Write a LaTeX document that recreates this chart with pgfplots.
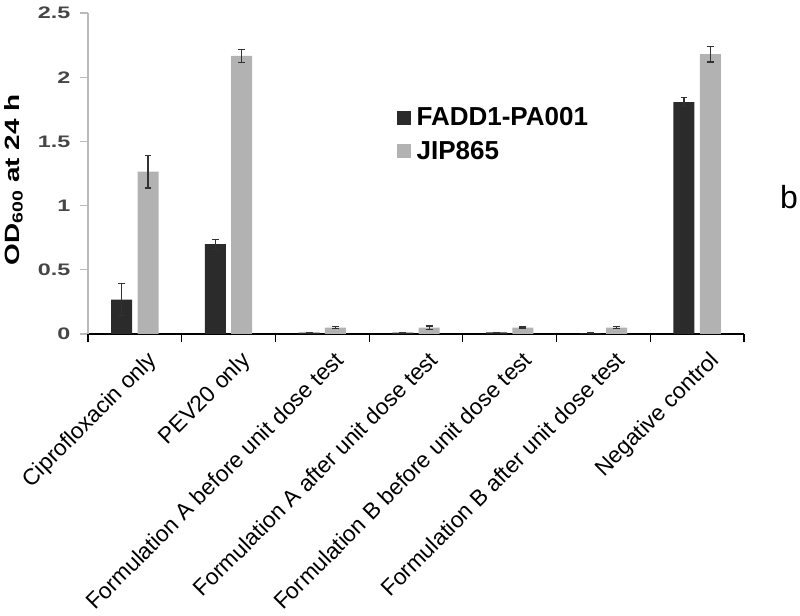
\documentclass[border=0pt]{standalone}
\usepackage{fontspec}
\setmainfont{Liberation Sans}
\usepackage{pgfplots}
\pgfplotsset{compat=1.18}
\definecolor{darkbar}{RGB}{43,43,43}
\definecolor{lightbar}{RGB}{178,178,178}
\definecolor{ticklab}{RGB}{70,70,70}
\definecolor{errc}{RGB}{50,50,50}
\begin{document}
\begin{tikzpicture}
\begin{axis}[
  at={(0pt,0pt)}, anchor=south west,
  scale only axis, width=492pt, height=240.75pt,
  ybar=4pt, bar width=15.75pt,
  xmin=-0.5, xmax=6.5, ymin=0, ymax=2.5,
  axis x line*=bottom, axis y line*=left,
  x axis line style={draw=black, line width=0.9pt},
  y axis line style={draw=gray!55, line width=0.9pt},
  tick align=outside, major tick length=6pt,
  xtick={0,...,6},
  xticklabels={Ciprofloxacin only, PEV20 only, Formulation A before unit dose test, Formulation A after unit dose test, Formulation B before unit dose test, Formulation B after unit dose test, Negative control},
  x tick style={draw=none},
  extra x ticks={-0.5,0.5,1.5,2.5,3.5,4.5,5.5,6.5},
  extra x tick labels={},
  extra x tick style={x tick style={draw=black, line width=0.9pt}},
  xticklabel style={rotate=45, anchor=north east, inner sep=0pt, font=\fontsize{17}{19}\selectfont, yshift=-10pt, xshift=2pt},
  ytick={0,0.5,1,1.5,2,2.5},
  yticklabels={0,0.5,1,1.5,2,2.5},
  y tick style={draw=gray!55, line width=0.9pt},
  yticklabel style={font=\bfseries\fontsize{12.5}{15}\selectfont\addfontfeature{FakeStretch=1.4}, text=ticklab, inner sep=0pt, xshift=-7pt},
  ylabel={OD\textsubscript{600} at 24 h},
  ylabel style={font=\bfseries\fontsize{15.5}{18}\selectfont\addfontfeature{FakeStretch=1.35}, at={(rel axis cs:-0.1136,0.48)}, anchor=center},
  legend style={at={(rel axis cs:0.471,0.71)}, anchor=north west, draw=none, fill=none,
    font=\bfseries\fontsize{19.5}{22}\selectfont, row sep=8pt, inner sep=0pt,
    nodes={inner sep=1pt},
    /tikz/every odd column/.append style={column sep=3pt}},
  legend cell align=left,
  legend image code/.code={\fill[#1] (0pt,-5.25pt) rectangle (10.5pt,5.25pt);},
  error bars/error bar style={line width=0.9pt, draw=errc},
  error bars/error mark options={rotate=90, mark size=2.6pt, line width=0.9pt, draw=errc},
]
\addplot[fill=darkbar, draw=none, error bars/.cd, y dir=both, y explicit] coordinates {
  (0,0.267) +- (0,0.125)
  (1,0.699) +- (0,0.038)
  (2,0.010) +- (0,0.004)
  (3,0.010) +- (0,0.004)
  (4,0.012) +- (0,0.002)
  (5,0.005) +- (0,0.002)
  (6,1.805) +- (0,0.035)
};
\addplot[fill=lightbar, draw=none, error bars/.cd, y dir=both, y explicit] coordinates {
  (0,1.265) +- (0,0.128)
  (1,2.167) +- (0,0.050)
  (2,0.050) +- (0,0.008)
  (3,0.050) +- (0,0.012)
  (4,0.050) +- (0,0.005)
  (5,0.050) +- (0,0.008)
  (6,2.180) +- (0,0.062)
};
\legend{FADD1-PA001, JIP865}
\end{axis}
\node[anchor=base, font=\fontsize{24}{28}\selectfont, inner sep=0pt] at (525.75pt,93.75pt) {b};
\pgfresetboundingbox
\useasboundingbox (-66pt,-211.5pt) rectangle (534pt,250.5pt);
\end{tikzpicture}
\end{document}
